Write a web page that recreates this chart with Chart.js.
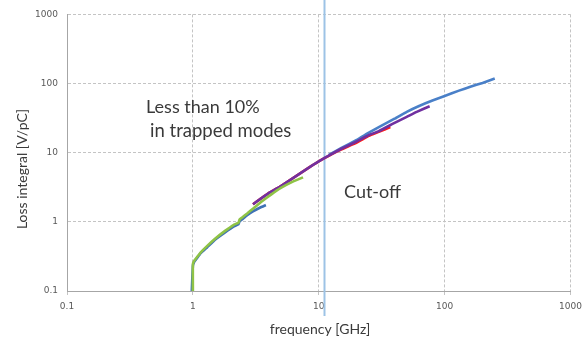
<!DOCTYPE html>
<html>
<head>
<meta charset="utf-8">
<script src="https://cdn.jsdelivr.net/npm/chart.js@4/dist/chart.umd.min.js"></script>
<style>
  html, body { margin: 0; padding: 0; background: #ffffff; }
  #wrap { width: 588px; height: 341px; position: relative; }
</style>
</head>
<body>
<div id="wrap"><canvas id="c" width="588" height="341"></canvas></div>
<script>
// ---- Data ----
const tickValues = [0.1, 1, 10, 100, 1000];
const xTickLabels = ['0.1', '1', '10', '100', '1000'];
const yTickLabels = ['0.1', '1', '10', '100', '1000'];

const greenFreq = [1.0, 1.0, 1.02, 1.08, 1.15, 1.3, 1.5, 1.8, 2.1, 2.3, 2.35, 2.45, 2.7, 3.0, 3.5, 4.2, 5.0, 6.0, 7.5];
const greenLoss = [0.1, 0.24, 0.27, 0.31, 0.36, 0.45, 0.57, 0.74, 0.9, 0.97, 1.08, 1.15, 1.32, 1.55, 1.95, 2.5, 3.1, 3.7, 4.4];

const blueLowFreq = [0.98, 1.0, 1.02, 1.08, 1.15, 1.3, 1.5, 1.8, 2.1, 2.3, 2.35, 2.45, 2.7, 3.0, 3.4, 3.8];
const blueLowLoss = [0.1, 0.23, 0.26, 0.3, 0.35, 0.43, 0.55, 0.7, 0.85, 0.92, 1.02, 1.08, 1.25, 1.42, 1.6, 1.75];

const purpleFreq = [3.0, 4, 5, 6.5, 8, 10, 12, 15, 20, 25, 30, 40, 50, 60, 76];
const purpleLoss = [1.8, 2.6, 3.3, 4.5, 5.8, 7.5, 9.1, 11.3, 14.5, 18, 20.5, 27, 33, 39, 47];

const redFreq = [3.0, 4, 5, 6.5, 8, 10, 12, 15, 20, 25, 30, 37];
const redLoss = [1.8, 2.6, 3.3, 4.5, 5.8, 7.5, 9.0, 11.1, 14.0, 17.5, 20, 23.5];

const blueHighFreq = [12, 15, 20, 25, 30, 40, 50, 62, 80, 100, 130, 160, 200, 250];
const blueHighLoss = [9.3, 11.6, 15.3, 19.5, 23.5, 31, 39, 47, 57, 66, 79, 90, 102, 118];

const cutoffFreq = [11];

const annotations = ['Less than 10%', 'in trapped modes', 'Cut-off'];
const xTitle = 'frequency [GHz]';
const yTitle = 'Loss integral [V/pC]';

// ---- Build ----
function pts(xs, ys) { return xs.map((x, i) => ({ x: x, y: ys[i] })); }

function lineSet(label, xs, ys, color) {
  return {
    label: label,
    data: pts(xs, ys),
    showLine: true,
    borderColor: color,
    backgroundColor: color,
    borderWidth: 2.6,
    pointRadius: 0,
    tension: 0.1,
    fill: false
  };
}

const TEXT = '#3a3a3a';
const TICK = '#595959';

const overlay = {
  id: 'overlay',
  beforeDatasetsDraw(chart) {
    const ctx = chart.ctx;
    const xs = chart.scales.x;
    ctx.save();
    ctx.strokeStyle = '#9dc3e6';
    ctx.lineWidth = 2;
    cutoffFreq.forEach(f => {
      const px = Math.round(xs.getPixelForValue(f)) + 0.5;
      ctx.beginPath();
      ctx.moveTo(px, 0);
      ctx.lineTo(px, 316);
      ctx.stroke();
    });
    ctx.restore();
  },
  afterDraw(chart) {
    const ctx = chart.ctx;
    ctx.save();
    ctx.fillStyle = TEXT;
    ctx.textBaseline = 'middle';
    ctx.textAlign = 'left';
    ctx.font = '18px Lato, "Open Sans", sans-serif';
    ctx.fillText(annotations[0], 146, 107);
    ctx.font = '18.5px Lato, "Open Sans", sans-serif';
    ctx.fillText(annotations[1], 150, 131);
    ctx.font = '18px Lato, "Open Sans", sans-serif';
    ctx.fillText(annotations[2], 344, 192);
    // axis titles
    ctx.font = '14px Lato, "Open Sans", sans-serif';
    ctx.textAlign = 'center';
    ctx.fillText(xTitle, 320, 329);
    ctx.translate(22, 169);
    ctx.rotate(-Math.PI / 2);
    ctx.fillText(yTitle, 0, 0);
    ctx.restore();
  }
};

const gridCommon = {
  color: '#c4c4c4',
  lineWidth: 1
};

new Chart(document.getElementById('c'), {
  type: 'scatter',
  data: {
    datasets: [
      lineSet('green', greenFreq, greenLoss, '#8fc346'),
      lineSet('purple', purpleFreq, purpleLoss, '#7030a0'),
      lineSet('red', redFreq, redLoss, '#ff1a1a'),
      lineSet('blue low', blueLowFreq, blueLowLoss, '#3f72b5'),
      lineSet('blue high', blueHighFreq, blueHighLoss, '#4a80c8')
    ]
  },
  options: {
    responsive: false,
    animation: false,
    devicePixelRatio: 1,
    layout: { padding: { left: 0, right: 15, top: 11, bottom: 0 } },
    plugins: { legend: { display: false }, tooltip: { enabled: false } },
    scales: {
      x: {
        type: 'logarithmic',
        min: 0.1, max: 1000,
        afterBuildTicks(s) { s.ticks = tickValues.map(v => ({ value: v })); },
        afterFit(s) { s.height = 50; },
        grid: Object.assign({}, gridCommon, { drawTicks: true, tickLength: 4, tickColor: '#c4c4c4' }),
        border: { display: true, color: '#a6a6a6', width: 1, dash: [3, 2] },
        ticks: {
          autoSkip: false, maxRotation: 0, padding: 6,
          color: TICK,
          font: { family: '"DejaVu Sans", sans-serif', size: 9 },
          callback(v) { const i = tickValues.indexOf(v); return i >= 0 ? xTickLabels[i] : ''; }
        }
      },
      y: {
        type: 'logarithmic',
        min: 0.1, max: 1000,
        afterBuildTicks(s) { s.ticks = tickValues.map(v => ({ value: v })); },
        afterFit(s) { s.width = 67; },
        grid: Object.assign({}, gridCommon, { drawTicks: false }),
        border: { display: true, color: '#a6a6a6', width: 1, dash: [3, 2] },
        ticks: {
          autoSkip: false, padding: 9,
          color: TICK,
          font: { family: '"DejaVu Sans", sans-serif', size: 9 },
          callback(v) { const i = tickValues.indexOf(v); return i >= 0 ? yTickLabels[i] : ''; }
        }
      }
    }
  },
  plugins: [overlay]
});
</script>
</body>
</html>
